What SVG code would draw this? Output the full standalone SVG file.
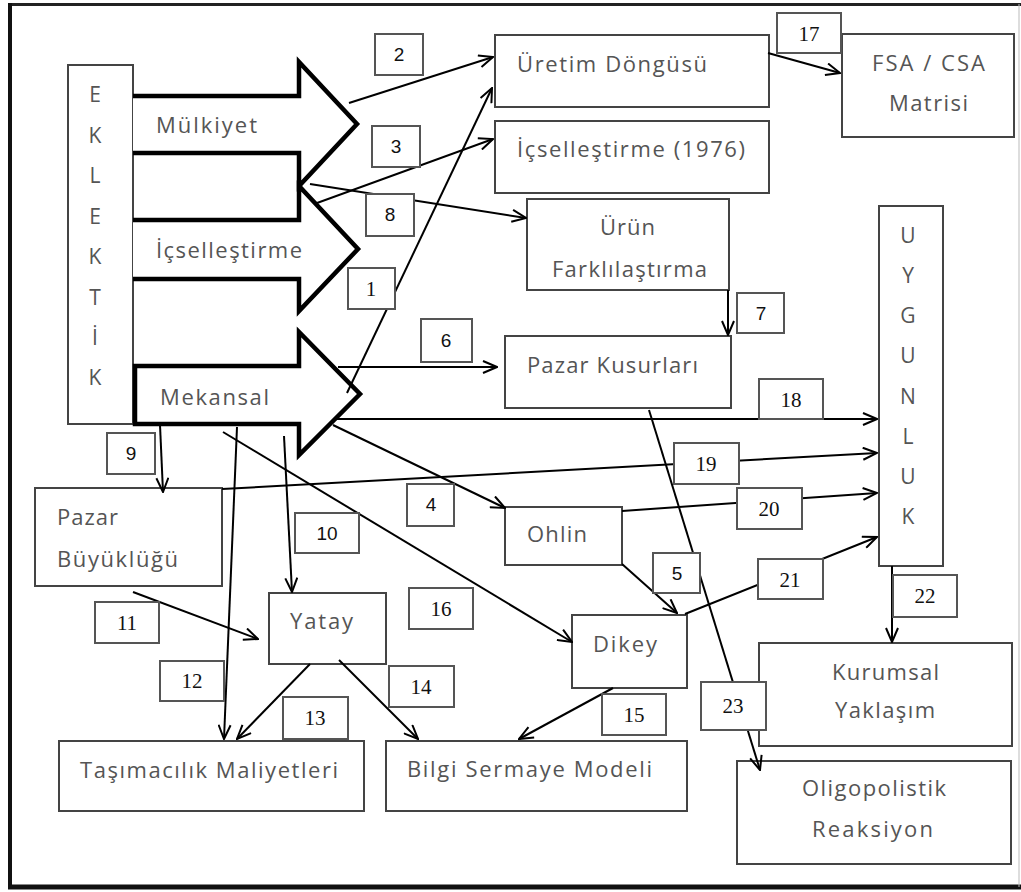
<svg xmlns="http://www.w3.org/2000/svg" width="1021" height="892" viewBox="0 0 1021 892">
<defs>
<marker id="ah" viewBox="0 0 16 14" refX="15" refY="7" markerWidth="16" markerHeight="14" markerUnits="userSpaceOnUse" orient="auto">
<path d="M1,1 L15,7 L1,13" fill="none" stroke="#000" stroke-width="2"/>
</marker>
<style>
.node{fill:#fff;stroke:#444;stroke-width:2}
.big{fill:#fff;stroke:#000;stroke-width:4.5;stroke-linejoin:miter}
.t{font-family:"Open Sans","Liberation Sans",sans-serif;font-size:22px;fill:#555}
.lt{font-family:"Open Sans","Liberation Sans",sans-serif;font-size:21px;fill:#555}
.lab{fill:#fff;stroke:#555;stroke-width:2}
.ns{font-family:"Liberation Sans",Arial,sans-serif;font-size:19px;fill:#111;text-anchor:middle}
.nr{font-family:"Liberation Serif","Times New Roman",serif;font-size:21px;fill:#111;text-anchor:middle}
.c{fill:none;stroke:#000;stroke-width:2;marker-end:url(#ah)}
</style>
</defs>
<rect width="1021" height="892" fill="#fff"/>
<g id="frame">
<line x1="8" y1="4.5" x2="1021" y2="4.5" stroke="#222" stroke-width="3"/>
<line x1="10" y1="3" x2="10" y2="889" stroke="#111" stroke-width="4"/>
<line x1="8" y1="887" x2="1021" y2="887" stroke="#111" stroke-width="5"/>
<line x1="1019" y1="4" x2="1019" y2="887" stroke="#bbb" stroke-width="1"/>
</g>

<g id="eklektik">
<rect class="node" x="68" y="65" width="65" height="359" stroke="#666"/>
<text class="lt" text-anchor="middle" x="95" y="102">E</text>
<text class="lt" text-anchor="middle" x="95" y="143">K</text>
<text class="lt" text-anchor="middle" x="95" y="183">L</text>
<text class="lt" text-anchor="middle" x="95" y="224">E</text>
<text class="lt" text-anchor="middle" x="95" y="264">K</text>
<text class="lt" text-anchor="middle" x="95" y="305">T</text>
<text class="lt" text-anchor="middle" x="95" y="345">İ</text>
<text class="lt" text-anchor="middle" x="95" y="385">K</text>
</g>

<g id="mulkiyet">
<path class="big" d="M133,96 H299 V62 L357,124 L299,186 V153 H133"/>
<text class="t" x="156" y="133" textLength="101" lengthAdjust="spacing">Mülkiyet</text>
</g>
<g id="icsellestirme">
<path class="big" d="M133,220 H299 V186 L358,249 L299,311 V279 H133"/>
<text class="t" x="156" y="258" textLength="146" lengthAdjust="spacing">İçselleştirme</text>
</g>
<g id="mekansal">
<path class="big" d="M135,366 H299 V332 L360,394 L299,455 V424 H135 Z"/>
<text class="t" x="160" y="405" textLength="109" lengthAdjust="spacing">Mekansal</text>
</g>

<g id="uretim">
<rect class="node" x="495" y="35" width="274" height="72"/>
<text class="t" x="517" y="72" textLength="190" lengthAdjust="spacing">Üretim Döngüsü</text>
</g>
<g id="icsellestirme1976">
<rect class="node" x="495" y="121" width="274" height="72"/>
<text class="t" x="517" y="157" textLength="228" lengthAdjust="spacing">İçselleştirme (1976)</text>
</g>
<g id="fsa">
<rect class="node" x="842" y="34" width="172" height="103"/>
<text class="t" x="872" y="71" textLength="113" lengthAdjust="spacing">FSA / CSA</text>
<text class="t" x="889" y="111" textLength="79" lengthAdjust="spacing">Matrisi</text>
</g>
<g id="urun">
<rect class="node" x="527" y="199" width="202" height="91"/>
<text class="t" x="600" y="235" textLength="55" lengthAdjust="spacing">Ürün</text>
<text class="t" x="552" y="277" textLength="155" lengthAdjust="spacing">Farklılaştırma</text>
</g>
<g id="pazarkusurlari">
<rect class="node" x="505" y="336" width="226" height="72"/>
<text class="t" x="527" y="373" textLength="171" lengthAdjust="spacing">Pazar Kusurları</text>
</g>
<g id="uygunluk">
<rect class="node" x="879" y="206" width="64" height="360"/>
<text class="lt" text-anchor="middle" x="908" y="243">U</text>
<text class="lt" text-anchor="middle" x="908" y="283">Y</text>
<text class="lt" text-anchor="middle" x="908" y="323">G</text>
<text class="lt" text-anchor="middle" x="908" y="363">U</text>
<text class="lt" text-anchor="middle" x="908" y="404">N</text>
<text class="lt" text-anchor="middle" x="908" y="444">L</text>
<text class="lt" text-anchor="middle" x="908" y="484">U</text>
<text class="lt" text-anchor="middle" x="908" y="524">K</text>
</g>
<g id="pazarbuyuklugu">
<rect class="node" x="35" y="488" width="187" height="98"/>
<text class="t" x="57" y="525" textLength="61" lengthAdjust="spacing">Pazar</text>
<text class="t" x="57" y="567" textLength="121" lengthAdjust="spacing">Büyüklüğü</text>
</g>
<g id="ohlin">
<rect class="node" x="505" y="507" width="117" height="58"/>
<text class="t" x="527" y="542" textLength="60" lengthAdjust="spacing">Ohlin</text>
</g>
<g id="yatay">
<rect class="node" x="269" y="593" width="117" height="71"/>
<text class="t" x="290" y="629" textLength="63" lengthAdjust="spacing">Yatay</text>
</g>
<g id="dikey">
<rect class="node" x="572" y="615" width="115" height="73"/>
<text class="t" x="593" y="652" textLength="64" lengthAdjust="spacing">Dikey</text>
</g>
<g id="tasimacilik">
<rect class="node" x="59" y="741" width="305" height="70"/>
<text class="t" x="80" y="778" textLength="258" lengthAdjust="spacing">Taşımacılık Maliyetleri</text>
</g>
<g id="bilgi">
<rect class="node" x="386" y="741" width="301" height="70"/>
<text class="t" x="407" y="777" textLength="245" lengthAdjust="spacing">Bilgi Sermaye Modeli</text>
</g>
<g id="kurumsal">
<rect class="node" x="759" y="643" width="253" height="103"/>
<text class="t" x="832" y="680" textLength="107" lengthAdjust="spacing">Kurumsal</text>
<text class="t" x="835" y="718" textLength="100" lengthAdjust="spacing">Yaklaşım</text>
</g>
<g id="oligopolistik">
<rect class="node" x="737" y="761" width="274" height="103"/>
<text class="t" x="802" y="796" textLength="144" lengthAdjust="spacing">Oligopolistik</text>
<text class="t" x="812" y="837" textLength="121" lengthAdjust="spacing">Reaksiyon</text>
</g>

<g id="connectors">
<line class="c" x1="347" y1="393" x2="492" y2="88" stroke-width="1.6"/>
<line class="c" x1="349" y1="103" x2="493" y2="57"/>
<line class="c" x1="317" y1="203" x2="493" y2="139"/>
<line class="c" x1="310" y1="184" x2="526" y2="218"/>
<line class="c" x1="768" y1="53" x2="840" y2="73"/>
<line class="c" x1="338" y1="367" x2="497" y2="367"/>
<line class="c" x1="728" y1="290" x2="728" y2="335"/>
<line class="c" x1="333" y1="419" x2="877" y2="419"/>
<line class="c" x1="333" y1="425" x2="505" y2="508"/>
<line class="c" x1="160" y1="425" x2="163" y2="492"/>
<line class="c" x1="284" y1="436" x2="292" y2="592"/>
<line class="c" x1="237" y1="427" x2="224" y2="739"/>
<line class="c" x1="223" y1="432" x2="572" y2="642"/>
<line class="c" x1="222" y1="489" x2="877" y2="453"/>
<line class="c" x1="622" y1="511" x2="877" y2="493"/>
<line class="c" x1="622" y1="564" x2="677" y2="613"/>
<line class="c" x1="685" y1="614" x2="877" y2="537"/>
<line class="c" x1="892" y1="566" x2="892" y2="642"/>
<line class="c" x1="649" y1="410" x2="760" y2="770" stroke-width="1.4"/>
<line class="c" x1="133" y1="592" x2="258" y2="639"/>
<line class="c" x1="310" y1="664" x2="237" y2="739"/>
<line class="c" x1="339" y1="660" x2="418" y2="739"/>
<line class="c" x1="613" y1="688" x2="519" y2="739"/>
</g>

<g id="label1"><rect class="lab" x="348" y="268" width="47" height="41"/><text class="nr" x="371" y="296">1</text></g>
<g id="label2"><rect class="lab" x="375" y="34" width="48" height="41"/><text class="ns" x="399" y="61">2</text></g>
<g id="label3"><rect class="lab" x="372" y="126" width="48" height="41"/><text class="ns" x="396" y="153">3</text></g>
<g id="label4"><rect class="lab" x="407" y="484" width="47" height="42"/><text class="ns" x="431" y="511">4</text></g>
<g id="label5"><rect class="lab" x="653" y="553" width="47" height="40"/><text class="ns" x="677" y="580">5</text></g>
<g id="label6"><rect class="lab" x="421" y="319" width="51" height="43"/><text class="ns" x="446" y="347">6</text></g>
<g id="label7"><rect class="lab" x="737" y="293" width="47" height="40"/><text class="ns" x="761" y="320">7</text></g>
<g id="label8"><rect class="lab" x="366" y="194" width="48" height="42"/><text class="ns" x="390" y="221">8</text></g>
<g id="label9"><rect class="lab" x="107" y="433" width="48" height="41"/><text class="ns" x="131" y="460">9</text></g>
<g id="label10"><rect class="lab" x="295" y="513" width="64" height="40"/><text class="ns" x="327" y="540">10</text></g>
<g id="label11"><rect class="lab" x="95" y="602" width="64" height="41"/><text class="nr" x="127" y="630">11</text></g>
<g id="label12"><rect class="lab" x="160" y="661" width="64" height="40"/><text class="nr" x="192" y="688">12</text></g>
<g id="label13"><rect class="lab" x="283" y="697" width="65" height="42"/><text class="nr" x="315" y="725">13</text></g>
<g id="label14"><rect class="lab" x="389" y="666" width="65" height="41"/><text class="nr" x="421" y="694">14</text></g>
<g id="label15"><rect class="lab" x="602" y="694" width="64" height="41"/><text class="nr" x="634" y="722">15</text></g>
<g id="label16"><rect class="lab" x="409" y="588" width="64" height="41"/><text class="nr" x="441" y="616">16</text></g>
<g id="label17"><rect class="lab" x="777" y="13" width="64" height="40"/><text class="nr" x="809" y="41">17</text></g>
<g id="label18"><rect class="lab" x="759" y="379" width="64" height="40"/><text class="nr" x="791" y="407">18</text></g>
<g id="label19"><rect class="lab" x="674" y="443" width="65" height="41"/><text class="nr" x="706" y="471">19</text></g>
<g id="label20"><rect class="lab" x="737" y="488" width="65" height="41"/><text class="nr" x="769" y="516">20</text></g>
<g id="label21"><rect class="lab" x="758" y="559" width="65" height="40"/><text class="nr" x="790" y="587">21</text></g>
<g id="label22"><rect class="lab" x="893" y="575" width="64" height="42"/><text class="nr" x="925" y="603">22</text></g>
<g id="label23"><rect class="lab" x="701" y="682" width="65" height="48" stroke="#000"/><text class="nr" x="733" y="713" font-size="22">23</text></g>
</svg>
